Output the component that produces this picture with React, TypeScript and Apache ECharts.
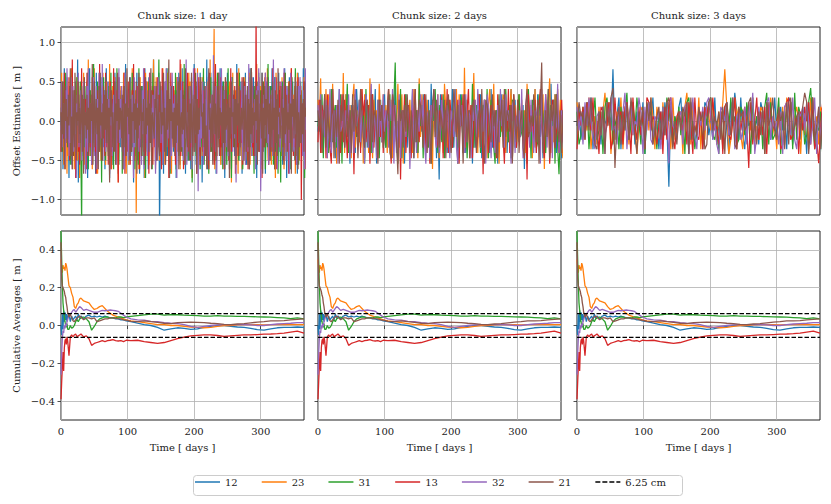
import React, { useEffect, useRef } from "react";
import * as echarts from "echarts";

// ---------- data ----------
const SERIES_NAMES = ["12", "23", "31", "13", "32", "21"];
const COLORS = ["#1f77b4", "#ff7f0e", "#2ca02c", "#d62728", "#9467bd", "#8c564b"];
const TITLES = ["Chunk size: 1 day", "Chunk size: 2 days", "Chunk size: 3 days"];
const CHUNKS = [1, 2, 3];
const X_TICKS = [0, 100, 200, 300];
const Y_TICKS_TOP = [-1, -0.5, 0, 0.5, 1];
const Y_TICKS_BOTTOM = [-0.4, -0.2, 0, 0.2, 0.4];
const THRESHOLD = 0.0625;

// Offset estimates, one letter per chunk: letter index in LEVELS minus 24 = level,
// value [m] = level * LEVEL_STEP of the panel (Y = 0).
const LEVELS = "ABCDEFGHIJKLMNOPQRSTUVWXYZabcdefghijklmnopqrstuvw";
const LEVEL_STEP = [0.056, 0.068, 0.06];

const OFF_1DAY_12 = "bTgNYkQdWi RcLfVaOjSX eUhPZmKbYT gQdWNiSaVf LcXkRYeOZh TbMjWdQgUa iPXcSfNYkV ZRhLbTeWOg YjQaUdMiXS fVcNZgRlTb WeOYiQaSdK hXbUjPZcMf SgVYeLkRaW dNiTbXfQYm UaOhWcSjAP gYRdMbVeXk QiTaNfWcYR bSgLZdUjXO eWkQaTcMhV YPfRbNiXdS lUaOgWcQYj TeKbZhSdVm NaXgRjUcPf ZWiMbTeYQk SdOhVaLgXc jRbUZfNiWT aQeXlSdPYh VcMgTbZjRO fWaNkYdSUi QbXeLhVcTg YOjRaWfMZd UiSbPgXkTa cNYhQeVjWR gZaOdTkSbL XfUiNcYRhW aPgVdMjZSe TbQYkWOcRf";
const OFF_1DAY_23 = "ZjTcOgVXaM hQbWeSkYRd NfUaiPXcLg VYdRjOaTbh SmWcQeXNfZ kTaUgMYdRi PbVjXcSOhW eZQlaTNgUd YiRbWfKcVX gSaPjYeUMb dWOhZcRkTa XQfDbVgNYi UcSeRaLjWZ hYObTdQgVm aXNiSfWcPY ReUkZbOgTd jVaQcXMhWS YfPbiRdUaN lTgWXcOeZQ bSjVhYaLdU RfXcNkWbTg ZeQiaPVdYO hUbSmRcWXf tNaTdQjYgV OcZeSbWiRa XgPhUdKYjT bVfQZcMkWS aeNYgRiTdU PXbjOaVhSc ZfWTlQeYRb gUNdaXiScV kPYbRfOZhT WcLjaUeSXg dQiVbNYfTR aZhOcWkSUe XgMbRjYdPa TfVcZiQWbO";
const OFF_1DAY_31 = "XcRhUaNjZe SbWgOdYkTQ fVaMiXcRZh PAeYbSgWdU jNaTfQZcXl RdVbOhYgSW aKeUiXcPZf TgQbYjRdWN hVaSkZcOeX UfMbYgQiTd WaPhXcRjZS eNYbVfOkUa cTgQdWiLZX RbhSaYeNjV fUcPZgWmTa XdOiRbYhQe SkVaMcZgUW bTjNfYdQXh aRWeOlScZV iPbUgYdKTf cXjQaWhRZN VeSbkOdYgU TaMfXiRcWh ZQdPbjUeYS gVaNhXcTfO WkRbYdLiZU eSaQgXcPjT bVhNZfWdRa YOiUcSkQeX MgZbTdWjRa fPcYhUaNeV SlXbQgTdZO aiRcWeMYfU KbXhTdVjQa ZgSeNcYiWR bUkPaXfOdT hVcRZgLbYe";
const OFF_1DAY_13 = "ReXbUjNcZg aSiPdWYmQT VfLcZhRbOe YkTaUgXdNj bQWeScOiZV hRaMfYdTlU XcPgWbQjSZ eOaVhNYdRk TbUfXcKiWa ZgSdQjMbVe RhYaOcWfTl PdXbUgSiNZ caVeRkYQhT WbMjZdUfOa gSXcPiVYeR bNkTaWdQhZ UfLcYjRaXg SeObViZdTm QaWhNcYfUb jRXdPgSaVe ZkTcMbWiYO hUaRfQdXgS VbNjZcTeWa ORlYdUgXbQ iSaVcNfZhT WdPbYkRaUe XgMcSjQbZf aTiOdVhWYR cNeUbXkSgQ ZaPwTdWiRb YfLhUcSjXa eVOgbRdZkT QcWiNaYfSh UbXdPjTgRa ZeMhcVkWYQ bSfOaXiTdU gGcRZhVbNe";
const OFF_1DAY_32 = "WhScYaOfUk ZdQbTiXNgR aVeLcYjSbW fPdUhXaMZg RkTbWcOeYi QaVgNdZjSX cUlPbYfRaT hWdMgXcQZe SaiOVbYkTd UgRcXNjaWf bPZhQdTeYL iSaWcUgRbX YOfVkNdZhT QcaRjWbSeU XgMYdPiVaZ TfbOcRhWkS YaUdNgQjXc VeZbLiTaRf WhSdPYcUmO aXbQgTeNZk RdVcWjIYaS fUbhOZdTgX QiaPcWeSYn VbRgMdXjUa ZkTcOfYhSW bQeNaVigRd XUcKjZbTfW SahPdYgOVe cRlUbXQiTa ZdNfWgSkYb IaVcReUjXh TbOgZdSfQm aWiYcNeVbR UhXdQkTaPg fZcMbjWYeS RaVhOdXgUi bTcQZfNkWd";
const OFF_1DAY_21 = "aRhVcOgYdT UeXbkQZNfW SjcPaYhTbV ZgRdMiXaUe WbQfTcYlOa hSZdVbNgRj XaPcUeWiTY dQbKgZfSaV RhOcYjTdWb aUeNXgScQk ZbViPdRaYf TcWhMbUjXe gQaYdOSiVb XfRcTkNZaW UdbgPYeSQh cVaXjRbOTf WZmLdYgUaS bQeTcXhNiR YaVfWdOkZU SgbPcTjXQa eRYhMdVbWf iZaUcSgQXN TdkWbRYeOa hVcPZfSjUb XaQgTdNiWY cReLbUhZaS fVdOjXcTgQ YbWaiPZeRU gSdNcVkTbX aQhYeOfRWc ZUjMbSgXdT iaVcPeYRhW bNfTdQkZaU XcgSbOjVYe RaWhTcMfZd UbiQYgNaSX eTcVdRhZbP";

const OFF_2DAY_12 = "WbUaSdYVcT ZXaRbWeUYc TdVZQbXaSe YUcWaRdTZV bSXeQaYcUW dTZVbRaXfS YWcUaQdTbX VeRZaSbYWd UaXcTfVYbR ZNdWaUcSYb XeTbVaRdYU cSWaZbQeTX aVdRYcUWbS eTXZaQcVdY WbSaUeRYcT ZdVXbPaWcU YaTeSdZVbR XcWaUfTYdS bVZRaXcTeW";
const OFF_2DAY_23 = "cYgSaWeRdV XfTbQaYcUh SdZWbRcfTY aUXeQdVbSg YRcWaTfZUd VbSeXcRaYW fTZdQbUaXc WSeYaRgVdT bXcUZaPeWY dRVbSfaTXc UYaWeQdZbS iTcXRbYhVa SdWaUcZRbe XYfTVbQaWd cSZUaeRYbT WdXcVaSfZU bRYeTaWcXd PaVbgSYUdZ eXcTRaWbVY";
const OFF_2DAY_31 = "XaVdRbYcSW eUZbTaXdQc WYfSaUbRdV ZcTXaQeWbY SdUaVcRZbX WTaYdSbcjU QXeRaZdVbT YcWUaSfXbR dVZTaQcYeW SbXUdRaZcV aTYeWQbXdS UcRZaVfTYb XdSWbaUeRY cZTQaXdVbW SeYUbRcaTX ZdVWaSbQeY RcXaTUdZbW aSYeVbXcQd TOWaZcUbRY";
const OFF_2DAY_13 = "UcSbYaRdXT QeWaVbZSdU cXRaTYbOdW VaSeZcUXbQ YdTaWRcVbS aXZeUQdYbT WcNaVdSZbX RbYeTaUcXW dSVaQbZcYT UaXdRbWeSc ZTYaVcQbXd SWaeUbRYcT VdXaOcZbSW bYTaRdUcXV QaWeSbYdZT cUXaVRbNdY WaTcSZbeXU RdYaQVcbTW aSXcUYbRdV";
const OFF_2DAY_32 = "bXdTaVcRYe SZaUbQeWXc TaYdRVbSeX ZcUaWQdbTY fSXaRcVbUd WaZTcYeQbS XdRaUbVcZP YeTbSaWdXc UQZaRbYeVT dSWcXaUbZR aYVeTQcXbW SdUaZRbYcV eXTaWcQdbY RZaSVbUeXc TdYaWQbcSZ XaVeRUbdYT cWSaZbXQeU YdTbVaRcWX fSZaUcYbTd";
const OFF_2DAY_21 = "aWcSYdTbXU ZeRaVcQbYd TXbUaSdWcZ RYeaVTbcXS dUZaWQcYbT VXaeSRdbZU OcYaTbWdXS aVReUZcbYT XdSaWQbeVc ZTaYUcRbdW SXeaVbTcYQ dZUaRWbcXS YaTeVQcbZW UdXaSRbYcT eVaZWbQdXU cSYaTRbeVW ZXdaUcQbjS WaVeRbYcTd XUaSZbcRYe";

const OFF_3DAY_12 = "XbUaWcYdSZ VaTbYXcWjU ZdSaWbUYcT aXVcRbZWdU YSaTcXKbWZ VbdUaYRcXT WaZScbVYUd TXaZbWRcYe aUdVSbXYcW ZTcaRbYUXd VYbWaSdcTZ XaUbYRcVdT WZSbaYcUXd";
const OFF_3DAY_23 = "cYaUbWdSXZ TbVaeXcRYU aWdSZbTcVY RXbaUcWdZS bYTcVaXSdU WZaRbeYTcX VdSaUbZWcY TaXcjbRUYd ZbVSaYcWdT XUbaRcZdVY SaWbTdXcUZ bYRaVcSdWX ZTbaUXcYdS";
const OFF_3DAY_31 = "aTVbXcSZYd UWaRbdYcTX ZSbVaeUXcW dYTaRbcZVX SaUbWdYcTZ XbVaRcdUYS WaZTbXcdVU YRaSbcWdXZ TUbaVcYRdW ZXaSbeTcUV YdRaWbXcSe UbZaTVcfYS XWaRbdUTcY";
const OFF_3DAY_13 = "SaXbUcZWdT YRbaVXcSUd WZaTbcYRdX UbVaSdcWZY TXaRbUcdVS ZaYWbTcXRd VUaSbZcYdW XTaRbcVUYd SaWZbXOcTY dUaVbRcZXW YaSTbcdUVX ZRaWbYcTdS UPXcbVYdSa";
const OFF_3DAY_32 = "bWaTcXdYUS ZaVbRcYdWX TbUaeSZcVY XdaRbWcUTZ YaSbVcPdXW UZaTbcRYdV SaXbWcdZUY TRbaYcVXdS ZaUWbTcYeR VbXaScdUZW YTaRbcXVdU SaZbWcYTXd RbUaVcZWYT";
const OFF_3DAY_21 = "XcZaUbWdYT SaVbRcXdfO YbTaWcUdZV RaXbScYdTW ZbUaVcdXSY TaWbZcRdUX VbYaSTcdWZ XaUbRcYVdT SbZaWXcdUY TaVbRcXZdW UbYaScTdVX ZaWbecRYdU XbSaVcTZdY";

// Cumulative averages [m] at these days
const X_CUM = [0, 1, 2, 3, 4, 5, 6, 7, 8, 9, 10, 12, 14, 16, 18, 20, 22, 24, 26, 28, 30, 34, 38, 42, 46, 50, 54, 58, 62, 66, 70, 74, 78, 82, 86, 90, 94, 98, 105, 115, 125, 135, 145, 155, 165, 175, 185, 195, 205, 215, 225, 235, 245, 255, 265, 275, 285, 295, 305, 315, 325, 335, 345, 355, 365];
const CUM_12 = [0.0, -0.05, 0.06, -0.02, 0.08, 0.02, 0.07, 0.03, 0.06, 0.02, 0.05, 0.06, 0.02, 0.05, 0.03, 0.04, 0.05, 0.03, 0.06, 0.04, 0.05, 0.035, 0.05, 0.055, 0.045, 0.05, 0.045, 0.05, 0.045, 0.05, 0.045, 0.04, 0.04, 0.035, 0.035, 0.03, 0.03, 0.025, 0.02, 0.012, 0.005, 0.0, -0.01, -0.025, -0.018, -0.012, -0.015, -0.02, -0.018, -0.01, -0.005, 0.0, 0.0, -0.005, -0.008, -0.01, -0.015, -0.022, -0.025, -0.018, -0.012, -0.01, -0.01, -0.008, -0.01];
const CUM_23 = [0.35, 0.3, 0.28, 0.32, 0.3, 0.31, 0.29, 0.33, 0.32, 0.3, 0.27, 0.21, 0.2, 0.17, 0.15, 0.1, 0.09, 0.11, 0.12, 0.14, 0.145, 0.13, 0.125, 0.12, 0.1, 0.085, 0.09, 0.1, 0.105, 0.09, 0.075, 0.065, 0.055, 0.05, 0.045, 0.04, 0.035, 0.03, 0.025, 0.02, 0.015, 0.01, 0.005, 0.005, 0.0, 0.0, -0.005, -0.008, -0.01, -0.012, -0.01, -0.005, 0.0, 0.0, 0.003, 0.005, 0.005, 0.005, 0.003, 0.005, 0.005, 0.005, 0.005, 0.005, 0.005];
const CUM_31 = [0.5, 0.35, 0.22, 0.12, 0.08, 0.05, 0.02, 0.0, -0.01, 0.01, -0.02, -0.02, 0.0, -0.015, -0.01, 0.0, 0.02, 0.03, 0.02, 0.035, 0.04, 0.045, 0.035, 0.02, -0.025, -0.005, 0.02, 0.035, 0.04, 0.045, 0.045, 0.04, 0.042, 0.04, 0.045, 0.045, 0.042, 0.045, 0.048, 0.052, 0.056, 0.06, 0.06, 0.055, 0.058, 0.057, 0.055, 0.054, 0.052, 0.05, 0.05, 0.052, 0.05, 0.05, 0.048, 0.048, 0.047, 0.046, 0.045, 0.044, 0.042, 0.04, 0.036, 0.04, 0.035];
const CUM_13 = [-0.39, -0.3, -0.22, -0.14, -0.24, -0.12, -0.08, -0.07, -0.1, -0.06, -0.08, -0.16, -0.06, -0.05, -0.06, -0.05, -0.045, -0.06, -0.055, -0.05, -0.045, -0.06, -0.055, -0.07, -0.105, -0.095, -0.09, -0.085, -0.08, -0.085, -0.08, -0.078, -0.075, -0.08, -0.082, -0.08, -0.085, -0.078, -0.08, -0.078, -0.085, -0.09, -0.095, -0.09, -0.08, -0.07, -0.062, -0.055, -0.052, -0.05, -0.05, -0.053, -0.058, -0.055, -0.052, -0.05, -0.05, -0.048, -0.046, -0.045, -0.043, -0.04, -0.035, -0.03, -0.04];
const CUM_32 = [-0.26, -0.15, -0.07, -0.03, -0.04, 0.0, -0.015, 0.01, -0.005, 0.02, 0.03, 0.055, 0.06, 0.07, 0.08, 0.085, 0.07, 0.08, 0.09, 0.1, 0.095, 0.08, 0.085, 0.08, 0.075, 0.07, 0.07, 0.075, 0.08, 0.078, 0.08, 0.082, 0.08, 0.078, 0.075, 0.065, 0.055, 0.045, 0.035, 0.03, 0.028, 0.022, 0.02, 0.015, 0.012, 0.01, 0.005, -0.005, -0.01, -0.005, 0.0, 0.003, 0.005, 0.005, 0.005, 0.005, 0.003, 0.0, 0.0, 0.005, 0.008, 0.01, 0.012, 0.015, 0.015];
const CUM_21 = [0.44, 0.25, 0.21, 0.2, 0.19, 0.18, 0.16, 0.15, 0.12, 0.1, 0.07, 0.045, 0.06, 0.04, 0.025, 0.02, 0.03, 0.04, 0.045, 0.05, 0.045, 0.03, 0.04, 0.04, 0.035, 0.04, 0.02, 0.025, 0.03, 0.035, 0.035, 0.04, 0.04, 0.038, 0.036, 0.035, 0.03, 0.028, 0.022, 0.02, 0.025, 0.02, 0.016, 0.012, 0.01, 0.015, 0.017, 0.018, 0.017, 0.015, 0.012, 0.01, 0.006, 0.005, 0.008, 0.01, 0.014, 0.018, 0.02, 0.024, 0.025, 0.026, 0.03, 0.032, 0.035];

const OFFSETS = [
  [OFF_1DAY_12, OFF_1DAY_23, OFF_1DAY_31, OFF_1DAY_13, OFF_1DAY_32, OFF_1DAY_21],
  [OFF_2DAY_12, OFF_2DAY_23, OFF_2DAY_31, OFF_2DAY_13, OFF_2DAY_32, OFF_2DAY_21],
  [OFF_3DAY_12, OFF_3DAY_23, OFF_3DAY_31, OFF_3DAY_13, OFF_3DAY_32, OFF_3DAY_21],
];
const CUMS = [CUM_12, CUM_23, CUM_31, CUM_13, CUM_32, CUM_21];

// ---------- helpers ----------
function decodeOffsets(s: string, chunk: number, step: number): number[][] {
  const chars = s.replace(/\s/g, "").split("");
  return chars.map((ch, i) => [i * chunk, (LEVELS.indexOf(ch) - 24) * step]);
}
const fmt = (v: number) => {
  const s = Math.abs(v) < 1e-9 ? "0.0" : v.toFixed(1);
  return s.replace("-", "\u2212");
};

const FONT = "DejaVu Serif";
const TEXT_COLOR = "#222";
const DASH_ICON = "path://M0,0h5v1.5h-5z M7,0h5v1.5h-5z M14,0h5v1.5h-5z M21,0h4v1.5h-4z";

export default function App() {
  const ref = useRef<HTMLDivElement>(null);
  useEffect(() => {
    document.body.style.margin = "0";
    if (!ref.current) return;
    const chart = echarts.init(ref.current, undefined, { renderer: "svg" });

    const LEFTS = [61, 318, 577];
    const TOPS = [27, 231];
    const W = 243;
    const H = [188, 189];

    const grid: any[] = [];
    const xAxis: any[] = [];
    const yAxis: any[] = [];
    const series: any[] = [];

    for (let r = 0; r < 2; r++) {
      for (let c = 0; c < 3; c++) {
        const idx = r * 3 + c;
        grid.push({
          left: LEFTS[c],
          top: TOPS[r],
          width: W,
          height: H[r],
          show: true,
          borderColor: "#222",
          borderWidth: 1,
          backgroundColor: "transparent",
          containLabel: false,
          outerBoundsMode: "none",
        });
        xAxis.push({
          type: "value",
          gridIndex: idx,
          min: 0,
          max: 365,
          name: r === 1 ? "Time [ days ]" : "",
          nameLocation: "middle",
          nameGap: 22,
          nameTextStyle: { fontFamily: FONT, fontSize: 10, color: TEXT_COLOR },
          axisLine: { show: false },
          axisTick: {
            show: true,
            length: 3.5,
            customValues: X_TICKS,
            lineStyle: { color: "#222", width: 0.8 },
          },
          axisLabel: {
            show: r === 1,
            customValues: X_TICKS,
            margin: 6,
            fontFamily: FONT,
            fontSize: 10,
            color: TEXT_COLOR,
          },
          splitLine: { show: true, lineStyle: { color: "#b0b0b0", width: 0.8 } },
        });
        const yt = r === 0 ? Y_TICKS_TOP : Y_TICKS_BOTTOM;
        yAxis.push({
          type: "value",
          gridIndex: idx,
          min: r === 0 ? -1.2 : -0.5,
          max: r === 0 ? 1.2 : 0.5,
          name: c === 0 ? (r === 0 ? "Offset Estimates [ m ]" : "Cumulative Averages [ m ]") : "",
          nameLocation: "middle",
          nameGap: 40,
          nameTextStyle: { fontFamily: FONT, fontSize: 10, color: TEXT_COLOR },
          axisLine: { show: false },
          axisTick: {
            show: true,
            length: 3.5,
            customValues: yt,
            lineStyle: { color: "#222", width: 0.8 },
          },
          axisLabel: {
            show: c === 0,
            customValues: yt,
            margin: 6,
            fontFamily: FONT,
            fontSize: 10,
            color: TEXT_COLOR,
            formatter: (v: number) => fmt(v),
          },
          splitLine: { show: true, lineStyle: { color: "#b0b0b0", width: 0.8 } },
        });

        if (r === 0) {
          OFFSETS[c].forEach((s, k) => {
            series.push({
              name: SERIES_NAMES[k],
              type: "line",
              xAxisIndex: idx,
              yAxisIndex: idx,
              data: decodeOffsets(s, CHUNKS[c], LEVEL_STEP[c]),
              symbol: "none",
              clip: true,
              lineStyle: { color: COLORS[k], width: 1.2 },
              itemStyle: { color: COLORS[k] },
              z: 2 + k,
            });
          });
        } else {
          CUMS.forEach((vals, k) => {
            series.push({
              name: SERIES_NAMES[k],
              type: "line",
              xAxisIndex: idx,
              yAxisIndex: idx,
              data: X_CUM.map((x, i) => [x, vals[i]]),
              symbol: "none",
              clip: true,
              lineStyle: { color: COLORS[k], width: 1.3 },
              itemStyle: { color: COLORS[k] },
              z: 2 + k,
            });
          });
          [THRESHOLD, -THRESHOLD].forEach((t) => {
            series.push({
              name: "6.25 cm",
              type: "line",
              xAxisIndex: idx,
              yAxisIndex: idx,
              data: [
                [0, t],
                [365, t],
              ],
              symbol: "none",
              clip: true,
              lineStyle: { color: "#000", width: 1.2, type: [4.5, 2] },
              itemStyle: { color: "#000" },
              z: 10,
            });
          });
        }
      }
    }

    const graphic: any[] = [
      {
        type: "rect",
        left: 191,
        top: 473,
        shape: { width: 489, height: 20, r: 3 },
        style: { fill: "none", stroke: "#cccccc", lineWidth: 1 },
        silent: true,
      },
      ...TITLES.map((t, c) => ({
        type: "text",
        x: LEFTS[c] + W / 2,
        y: 15,
        style: {
          text: t,
          align: "center",
          verticalAlign: "middle",
          fontFamily: FONT,
          fontSize: 10,
          fill: TEXT_COLOR,
        },
      })),
    ];

    chart.setOption({
      animation: false,
      backgroundColor: "#fff",
      grid,
      xAxis,
      yAxis,
      series,
      graphic,
      legend: {
        data: [
          ...SERIES_NAMES.map((n) => ({ name: n, icon: "rect" })),
          { name: "6.25 cm", icon: DASH_ICON },
        ],
        left: 189,
        top: 472,
        orient: "horizontal",
        itemWidth: 25,
        itemHeight: 1.5,
        itemGap: 24,
        padding: [5, 6, 5, 6],
        selectedMode: false,
        textStyle: { fontFamily: FONT, fontSize: 10, color: TEXT_COLOR },
      },
    });

    return () => chart.dispose();
  }, []);

  return (
    <div
      ref={ref}
      style={{ position: "fixed", left: 0, top: 0, width: 831, height: 504 }}
    />
  );
}
